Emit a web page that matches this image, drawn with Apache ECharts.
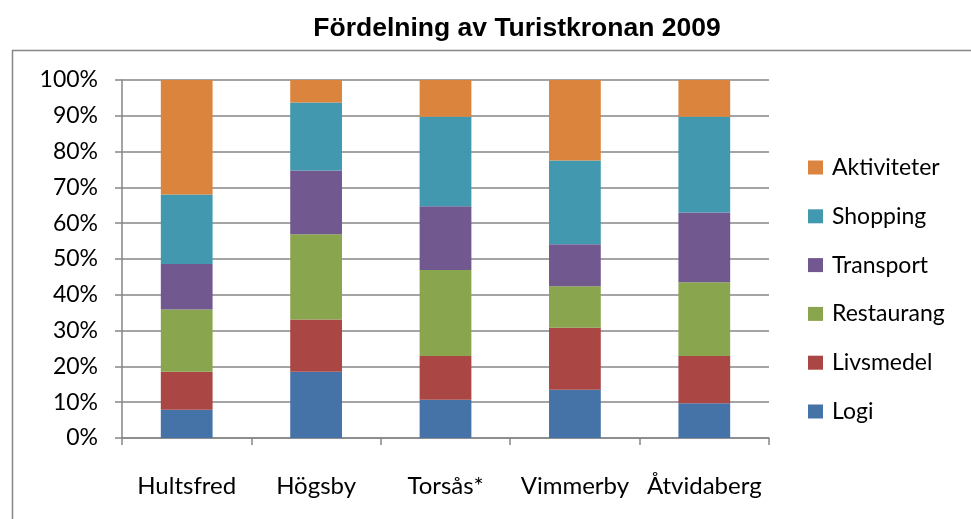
<!DOCTYPE html>
<html>
<head>
<meta charset="utf-8">
<script src="https://cdn.jsdelivr.net/npm/echarts@6/dist/echarts.min.js"></script>
<style>
  html, body { margin: 0; padding: 0; background: #fff; }
  #main { width: 971px; height: 519px; }
</style>
</head>
<body>
<div id="main"></div>
<script>
// kommuner
var categories = ['Hultsfred', 'Högsby', 'Torsås*', 'Vimmerby', 'Åtvidaberg'];

// andel av turistkronan, procent
var logi        = [7.9, 18.5, 10.7, 13.5, 9.7];
var livsmedel   = [10.6, 14.6, 12.2, 17.3, 13.2];
var restaurang  = [17.4, 23.8, 24.0, 11.6, 20.6];
var transport   = [12.7, 17.8, 17.8, 11.7, 19.5];
var shopping    = [19.4, 19.0, 25.0, 23.4, 26.7];
var aktiviteter = [32.0, 6.3, 10.3, 22.5, 10.3];

var yTicks = [0, 10, 20, 30, 40, 50, 60, 70, 80, 90, 100];

var chart = echarts.init(document.getElementById('main'));

var labelFont = 'Lato, "Open Sans", sans-serif';

function bar(name, data, color) {
  return {
    name: name,
    type: 'bar',
    stack: 'total',
    barWidth: '40%',
    data: data,
    itemStyle: { color: color },
    emphasis: { disabled: true }
  };
}

var option = {
  backgroundColor: '#fff',
  animation: false,
  textStyle: { fontFamily: labelFont },
  title: {
    text: 'Fördelning av Turistkronan 2009',
    left: 512,
    textAlign: 'center',
    top: 10,
    textStyle: {
      fontFamily: '"Liberation Sans", Arial, sans-serif',
      fontWeight: 'bold',
      fontSize: 26.5,
      color: '#000'
    }
  },
  graphic: [{
    type: 'rect',
    shape: { x: 12.5, y: 50.5, width: 1000, height: 600 },
    style: { fill: 'none', stroke: '#868686', lineWidth: 1.5 },
    silent: true,
    z: -1
  }],
  legend: {
    orient: 'vertical',
    left: 808,
    top: 156,
    padding: 0,
    itemWidth: 15,
    itemHeight: 14,
    itemGap: 25.8,
    icon: 'rect',
    data: ['Aktiviteter', 'Shopping', 'Transport', 'Restaurang', 'Livsmedel', 'Logi'],
    textStyle: {
      fontFamily: labelFont,
      fontSize: 23,
      color: '#000',
      padding: [0, 0, 0, 4]
    }
  },
  grid: {
    left: 122,
    right: 202,
    top: 80,
    bottom: 81
  },
  xAxis: {
    type: 'category',
    data: categories,
    axisLine: { lineStyle: { color: '#868686', width: 1.5 } },
    axisTick: { show: true, length: 7, lineStyle: { color: '#868686', width: 1.5 } },
    axisLabel: {
      color: '#000',
      fontSize: 24,
      margin: 36,
      interval: 0,
      hideOverlap: false,
      fontFamily: labelFont
    }
  },
  yAxis: {
    type: 'value',
    min: yTicks[0],
    max: yTicks[yTicks.length - 1],
    interval: 10,
    axisLine: { show: true, lineStyle: { color: '#868686', width: 1.5 } },
    axisTick: { show: true, length: 7, lineStyle: { color: '#868686', width: 1.5 } },
    splitLine: { lineStyle: { color: '#868686', width: 1.5 } },
    axisLabel: {
      color: '#000',
      fontSize: 23,
      margin: 24,
      fontFamily: labelFont,
      formatter: '{value}%'
    }
  },
  series: [
    bar('Logi', logi, '#4572A7'),
    bar('Livsmedel', livsmedel, '#AA4643'),
    bar('Restaurang', restaurang, '#89A54E'),
    bar('Transport', transport, '#71588F'),
    bar('Shopping', shopping, '#4198AF'),
    bar('Aktiviteter', aktiviteter, '#DB843D')
  ]
};

chart.setOption(option);
</script>
</body>
</html>
